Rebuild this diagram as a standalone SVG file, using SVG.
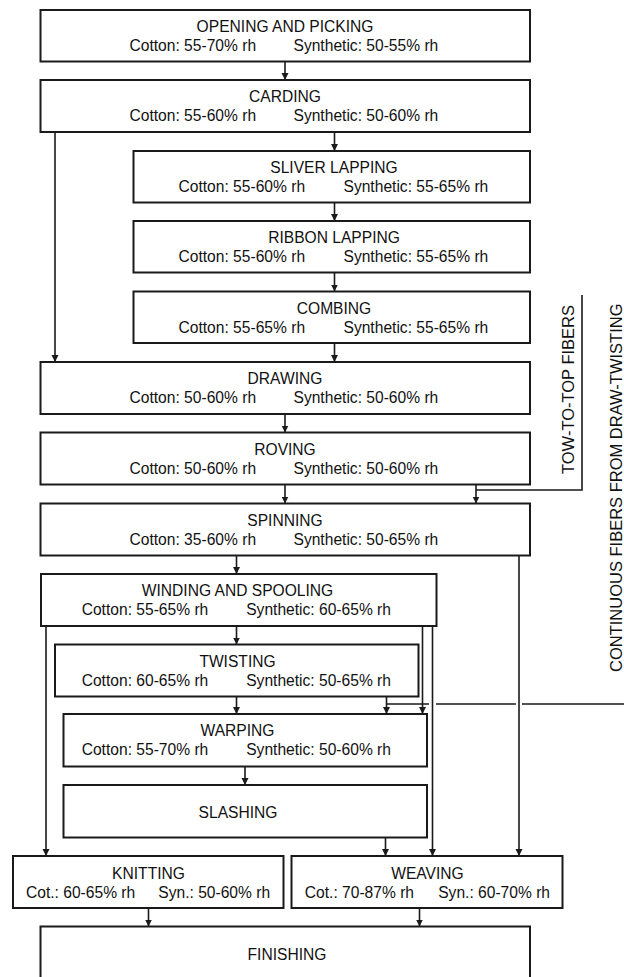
<svg xmlns="http://www.w3.org/2000/svg" width="624" height="977" viewBox="0 0 624 977">
<defs>
<style>
.box{fill:#fff;stroke:#1a1a1a;stroke-width:2}
.t{font-family:"Liberation Sans",Arial,sans-serif;font-size:15.6px;fill:#111}
.c{text-anchor:middle}
.v{font-family:"Liberation Sans",Arial,sans-serif;font-size:16.5px;fill:#111}
.ln{fill:none;stroke:#1a1a1a;stroke-width:1.6}
</style>
<marker id="ah" markerUnits="userSpaceOnUse" markerWidth="8" markerHeight="8" refX="7" refY="3.5" orient="auto">
<path d="M0,0 L7,3.5 L0,7 z" fill="#1a1a1a"/>
</marker>
</defs>
<rect width="624" height="977" fill="#fff"/>

<g id="connectors">
<path class="ln" d="M285,61.5 V80" marker-end="url(#ah)"/>
<path class="ln" d="M55,132 V362" marker-end="url(#ah)"/>
<path class="ln" d="M334.5,132 V151" marker-end="url(#ah)"/>
<path class="ln" d="M334.5,202.5 V221" marker-end="url(#ah)"/>
<path class="ln" d="M334.5,272.5 V291.5" marker-end="url(#ah)"/>
<path class="ln" d="M334.5,343 V362" marker-end="url(#ah)"/>
<path class="ln" d="M285,414 V432.5" marker-end="url(#ah)"/>
<path class="ln" d="M285,484.5 V503.5" marker-end="url(#ah)"/>
<path class="ln" d="M476,484.5 V503.5" marker-end="url(#ah)"/>
<path class="ln" d="M582,295 V490 H476"/>
<path class="ln" d="M236.5,555.5 V574" marker-end="url(#ah)"/>
<path class="ln" d="M519,555.5 V856" marker-end="url(#ah)"/>
<path class="ln" d="M236.5,626 V644.5" marker-end="url(#ah)"/>
<path class="ln" d="M46,626 V856" marker-end="url(#ah)"/>
<path class="ln" d="M422.5,626 V714" marker-end="url(#ah)"/>
<path class="ln" d="M432.5,626 V856" marker-end="url(#ah)"/>
<path class="ln" d="M236.5,696.5 V714" marker-end="url(#ah)"/>
<path class="ln" d="M386.5,696.5 V714" marker-end="url(#ah)"/>
<path class="ln" d="M624,704 H522 M516,704 H436 M429,704 H386.5"/>
<path class="ln" d="M245,766.5 V785" marker-end="url(#ah)"/>
<path class="ln" d="M385.5,837.5 V856" marker-end="url(#ah)"/>
<path class="ln" d="M148.5,908 V926.5" marker-end="url(#ah)"/>
<path class="ln" d="M419.5,908 V926.5" marker-end="url(#ah)"/>
</g>

<g id="opening">
<rect class="box" x="40.5" y="10" width="489.5" height="51.5"/>
<text class="t c" x="285" y="32">OPENING AND PICKING</text>
<text class="t" x="129.5" y="51">Cotton: 55-70% rh</text>
<text class="t" x="293.5" y="51">Synthetic: 50-55% rh</text>
</g>
<g id="carding">
<rect class="box" x="40.5" y="80" width="489.5" height="52"/>
<text class="t c" x="285" y="102">CARDING</text>
<text class="t" x="129.5" y="121">Cotton: 55-60% rh</text>
<text class="t" x="293.5" y="121">Synthetic: 50-60% rh</text>
</g>
<g id="sliver">
<rect class="box" x="133.5" y="151" width="396.5" height="51.5"/>
<text class="t c" x="334" y="173">SLIVER LAPPING</text>
<text class="t" x="178.5" y="192">Cotton: 55-60% rh</text>
<text class="t" x="343.5" y="192">Synthetic: 55-65% rh</text>
</g>
<g id="ribbon">
<rect class="box" x="133.5" y="221" width="396.5" height="51.5"/>
<text class="t c" x="334" y="243">RIBBON LAPPING</text>
<text class="t" x="178.5" y="262">Cotton: 55-60% rh</text>
<text class="t" x="343.5" y="262">Synthetic: 55-65% rh</text>
</g>
<g id="combing">
<rect class="box" x="133.5" y="291.5" width="396.5" height="51.5"/>
<text class="t c" x="334" y="313.5">COMBING</text>
<text class="t" x="178.5" y="332.5">Cotton: 55-65% rh</text>
<text class="t" x="343.5" y="332.5">Synthetic: 55-65% rh</text>
</g>
<g id="drawing">
<rect class="box" x="40.5" y="362" width="489.5" height="52"/>
<text class="t c" x="285" y="384">DRAWING</text>
<text class="t" x="129.5" y="403">Cotton: 50-60% rh</text>
<text class="t" x="293.5" y="403">Synthetic: 50-60% rh</text>
</g>
<g id="roving">
<rect class="box" x="40.5" y="432.5" width="489.5" height="52"/>
<text class="t c" x="285" y="454.5">ROVING</text>
<text class="t" x="129.5" y="473.5">Cotton: 50-60% rh</text>
<text class="t" x="293.5" y="473.5">Synthetic: 50-60% rh</text>
</g>
<g id="spinning">
<rect class="box" x="40.5" y="503.5" width="489.5" height="52"/>
<text class="t c" x="285" y="525.5">SPINNING</text>
<text class="t" x="129.5" y="544.5">Cotton: 35-60% rh</text>
<text class="t" x="293.5" y="544.5">Synthetic: 50-65% rh</text>
</g>
<g id="winding">
<rect class="box" x="41" y="574" width="395.5" height="52"/>
<text class="t c" x="237.5" y="596">WINDING AND SPOOLING</text>
<text class="t" x="81.7" y="615">Cotton: 55-65% rh</text>
<text class="t" x="246.2" y="615">Synthetic: 60-65% rh</text>
</g>
<g id="twisting">
<rect class="box" x="55" y="644.5" width="363.5" height="52"/>
<text class="t c" x="237.5" y="666.5">TWISTING</text>
<text class="t" x="81.7" y="685.5">Cotton: 60-65% rh</text>
<text class="t" x="246.2" y="685.5">Synthetic: 50-65% rh</text>
</g>
<g id="warping">
<rect class="box" x="63.5" y="714" width="363.5" height="52.5"/>
<text class="t c" x="237.5" y="736">WARPING</text>
<text class="t" x="81.7" y="755">Cotton: 55-70% rh</text>
<text class="t" x="246.2" y="755">Synthetic: 50-60% rh</text>
</g>
<g id="slashing">
<rect class="box" x="63.5" y="785" width="363.5" height="52.5"/>
<text class="t c" x="238" y="818">SLASHING</text>
</g>
<g id="knitting">
<rect class="box" x="13" y="856" width="270.5" height="52"/>
<text class="t c" x="148.5" y="878.5">KNITTING</text>
<text class="t" x="26" y="897.5">Cot.: 60-65% rh</text>
<text class="t" x="158.3" y="897.5">Syn.: 50-60% rh</text>
</g>
<g id="weaving">
<rect class="box" x="291.5" y="856" width="271" height="52"/>
<text class="t c" x="427.5" y="878.5">WEAVING</text>
<text class="t" x="304.8" y="897.5">Cot.: 70-87% rh</text>
<text class="t" x="438.2" y="897.5">Syn.: 60-70% rh</text>
</g>
<g id="finishing">
<rect class="box" x="40.5" y="926.5" width="489.5" height="60"/>
<text class="t c" x="287" y="960">FINISHING</text>
</g>
<g id="tow-label">
<text class="v" text-anchor="end" transform="translate(574,305) rotate(-90)">TOW-TO-TOP FIBERS</text>
</g>
<g id="continuous-label">
<text class="v" text-anchor="start" transform="translate(622,672) rotate(-90)">CONTINUOUS FIBERS FROM DRAW-TWISTING</text>
</g>
</svg>
